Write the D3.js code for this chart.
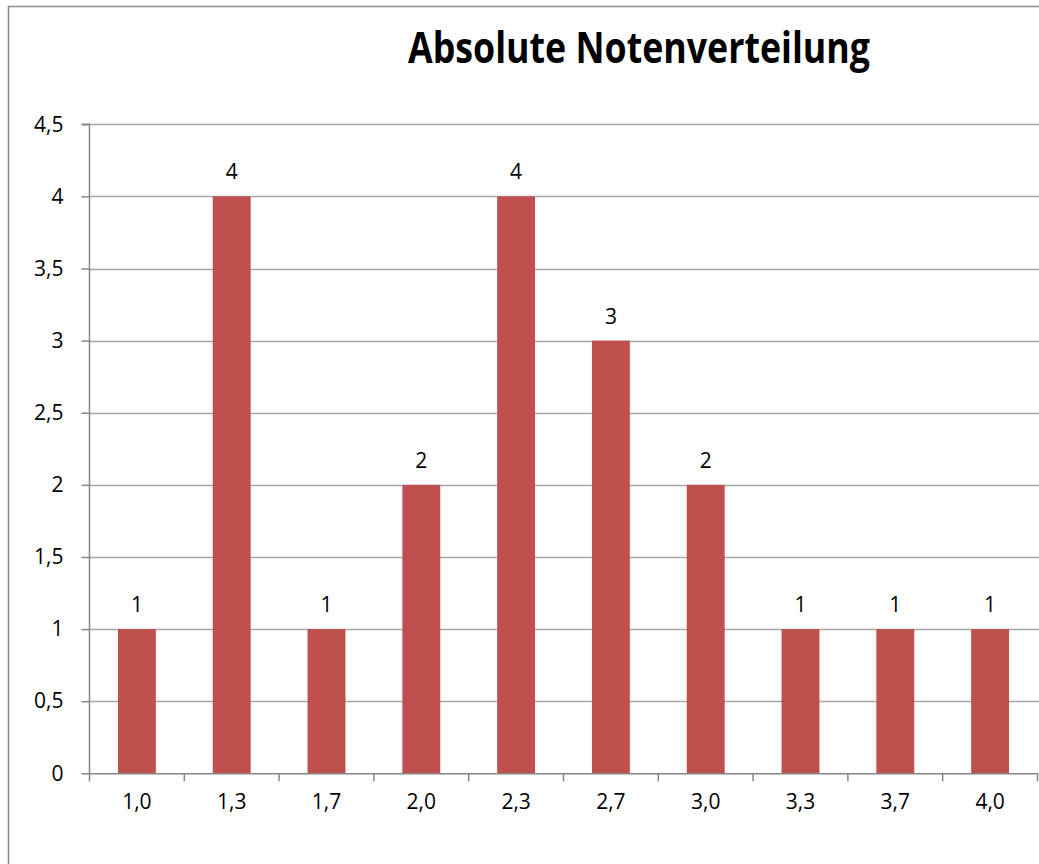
<!DOCTYPE html>
<html><head><meta charset="utf-8">
<script src="https://cdn.jsdelivr.net/npm/d3@7"></script>
<style>body{margin:0;background:#fff}svg{display:block}</style>
</head><body>
<script>
const categories = ["1,0","1,3","1,7","2,0","2,3","2,7","3,0","3,3","3,7","4,0"];
const values = [1,4,1,2,4,3,2,1,1,1];
const yTicks = [0,0.5,1,1.5,2,2.5,3,3.5,4,4.5];
const title = "Absolute Notenverteilung";

const W=1039,H=864;
const svg=d3.select("body").append("svg").attr("width",W).attr("height",H);
svg.append("rect").attr("x",8.5).attr("y",6.5).attr("width",W+20).attr("height",H+20)
  .attr("fill","#fff").attr("stroke","#8c8c8c").attr("stroke-width",1.5);

const x0=89.5, x1=1037.5, yTop=124.3, yBot=773.3;
const x=d3.scaleBand().domain(categories).range([x0,x1]).paddingInner(0.6).paddingOuter(0.3);
const xc=d3.scaleBand().domain(categories).range([x0,x1]);
const y=d3.scaleLinear().domain([0,4.5]).range([yBot,yTop]);
const font="'Open Sans', sans-serif";
const fs=21;
const fmt=d=>String(d).replace(".",",");

// gridlines
svg.append("g").selectAll("line").data(yTicks.filter(d=>d>0)).join("line")
  .attr("x1",x0).attr("x2",x1+2).attr("y1",d=>Math.round(y(d))+0.5).attr("y2",d=>Math.round(y(d))+0.5)
  .attr("stroke","#a6a6a6").attr("stroke-width",1.5);

// bars
svg.append("g").selectAll("rect").data(values).join("rect")
  .attr("x",(d,i)=>x(categories[i])).attr("width",x.bandwidth())
  .attr("y",d=>y(d)).attr("height",d=>yBot-y(d)).attr("fill","#C0504D");

// y axis
const ya=svg.append("g").attr("transform",`translate(${x0},0)`)
  .call(d3.axisLeft(y).tickValues(yTicks).tickFormat(fmt).tickSize(8).tickPadding(18));
ya.select(".domain").attr("stroke","#868686").attr("stroke-width",1.5).attr("d",`M-8,${y(4.5)}H0V${yBot}`);
ya.selectAll(".tick line").attr("stroke","#868686").attr("stroke-width",1.5);
ya.selectAll(".tick text").attr("font-family",font).attr("font-size",fs).attr("fill","#000");

// x axis
const xa=svg.append("g").attr("transform",`translate(0,${yBot})`)
  .call(d3.axisBottom(xc).tickSize(0).tickPadding(21));
xa.select(".domain").attr("stroke","#868686").attr("stroke-width",1.5);
xa.selectAll(".tick text").attr("font-family",font).attr("font-size",fs).attr("fill","#000");
svg.append("g").selectAll("line").data(d3.range(categories.length+1)).join("line")
  .attr("x1",i=>x0+i*xc.step()).attr("x2",i=>x0+i*xc.step())
  .attr("y1",yBot).attr("y2",yBot+8).attr("stroke","#868686").attr("stroke-width",1.5);

// value labels
svg.append("g").selectAll("text").data(values).join("text")
  .attr("x",(d,i)=>xc(categories[i])+xc.bandwidth()/2).attr("y",d=>y(d)-17)
  .attr("text-anchor","middle").attr("font-family",font).attr("font-size",fs).text(d=>d);

// title
svg.append("text").attr("x",639).attr("y",63).attr("text-anchor","middle")
  .attr("font-family",font).attr("font-weight","bold").attr("font-size",43)
  .attr("textLength",462).attr("lengthAdjust","spacingAndGlyphs").text(title);
</script>
</body></html>
